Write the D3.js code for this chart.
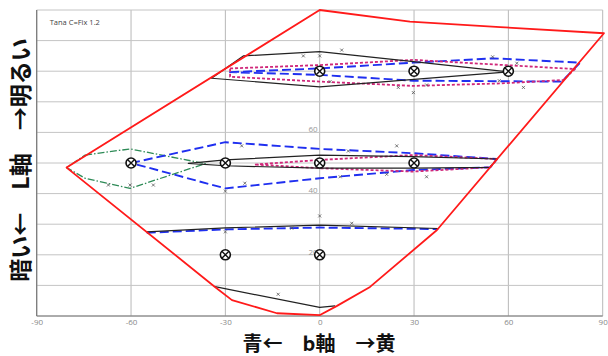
<!DOCTYPE html>
<html>
<head>
<meta charset="utf-8">
<script src="https://cdn.jsdelivr.net/npm/d3@7/dist/d3.min.js"></script>
<style>
  body { margin: 0; background: #fff; }
  svg { display: block; }
</style>
</head>
<body>
<div id="fig"></div>
<script>
// b axis ticks and L grid
var bTicks = [-90, -60, -30, 0, 30, 60, 90];
var lGrid = [0, 10, 20, 30, 40, 50, 60, 70, 80, 90, 100];
var lLabels = [20, 40, 60];

// gamut boundary [b, L]
var gamut = [[0, 100], [28.7, 96.2], [57.4, 94.4], [90.4, 92.4], [37.3, 28.1], [16, 9.5],
             [5.5, 3.3], [0.1, 0.3], [-13.6, 0.9], [-27.9, 5.2], [-33.3, 9.5], [-80.5, 48.5]];

// target colours (circled x)
var targets = [[0, 80], [30, 80], [60, 80], [-60, 50], [-30, 50], [0, 50], [30, 50], [-30, 20], [0, 20]];

// black solid outlines
var blackHigh = [[-24.3, 85], [0, 86.4], [29.8, 83.1], [60, 79.8], [0, 74.9], [-34.4, 77.7]];
var blackMid = [[-41.8, 49.9], [-30, 51], [0, 52.6], [29.7, 52.1], [56.4, 51.3],
                [54.2, 48.6], [29.7, 48.3], [0, 48.3], [-30, 49.1]];
var blackLow = [[-55, 27.5], [-30, 28.8], [0, 29.7], [37.7, 28.6]];
var blackBottom = [[-33.3, 9.6], [0, 2.8], [4.9, 3.3]];

// blue dashed outlines
var blueHigh = [[-28.5, 79.7], [0, 80.9], [29.8, 82.8], [55.2, 84.2], [82.8, 82.8],
                [77, 76.6], [29.8, 76.9], [0, 78.8]];
var blueMid = [[-60, 50], [-30, 56.8], [0, 54.6], [29.7, 53.2], [56.4, 51.3],
               [54.2, 48.6], [29.7, 47.7], [0, 45], [-30, 41.7]];
var blueLow = [[-55, 27.2], [-30, 28.3], [0, 28.9], [37.7, 28.4]];

// pink dotted outlines
var pinkHigh = [[-28.5, 80.9], [0, 82], [29.8, 83.7], [81.2, 80.7],
                [77.4, 77.1], [57.3, 76], [29.8, 75.2], [0, 76.6], [-28.5, 78.2]];
var pinkMid = [[-20.6, 49.5], [0, 51], [29.7, 52.6], [56.4, 51.3],
               [54.2, 48.6], [29.7, 47.2], [0, 48.3]];

// green dash-dot outline
var greenMid = [[-74.6, 52.6], [-60.3, 54.6], [-36.4, 49.8], [-60.3, 41.7], [-74.6, 45], [-80.5, 48.5]];

// small measured points
var samples = [[-5.2, 85], [0, 85], [7, 86.9], [55, 84.7], [62.7, 82.6], [57.1, 76.9],
               [34, 75.5], [29.8, 73], [64.8, 74.7], [3.3, 76.6], [25, 74.7],
               [-24.8, 55.6], [24.5, 55.6], [9.1, 53.9], [-23.8, 43.4], [-30, 40.8],
               [6.5, 45.5], [21.3, 46.3], [34, 45.5], [-67.2, 42.8], [-60.3, 42.8], [-52.9, 42.8],
               [0, 32.7], [10.2, 30.3], [-30, 27.5], [-8.9, 28.7], [-13.2, 7.1]];

var margin = { top: 10, right: 5.3, bottom: 40, left: 36.7 };
var width = 608 - margin.left - margin.right;
var height = 356 - margin.top - margin.bottom;

var x = d3.scaleLinear().domain([-90, 90]).range([0, width]);
var y = d3.scaleLinear().domain([0, 100]).range([height, 0]);

var svg = d3.select("#fig")
    .append("svg")
    .attr("width", 608)
    .attr("height", 356);

var fig = svg.append("g")
    .attr("transform", "translate(" + margin.left + "," + margin.top + ")");

// grid
fig.selectAll(".vgrid")
    .data(bTicks)
    .enter().append("line")
    .attr("x1", d => x(d)).attr("x2", d => x(d))
    .attr("y1", 0).attr("y2", height)
    .style("stroke", "#b8b8b8").style("stroke-width", 1);

fig.selectAll(".hgrid")
    .data(lGrid)
    .enter().append("line")
    .attr("x1", 0).attr("x2", width)
    .attr("y1", d => y(d)).attr("y2", d => y(d))
    .style("stroke", "#c4c4c4").style("stroke-width", 1);

// left and bottom axis lines
fig.append("line").attr("x1", 0).attr("x2", 0).attr("y1", 0).attr("y2", height)
    .style("stroke", "#777").style("stroke-width", 1.2);
fig.append("line").attr("x1", 0).attr("x2", width).attr("y1", height).attr("y2", height)
    .style("stroke", "#777").style("stroke-width", 1.2);

// tick labels
var xAxis = fig.append("g")
    .attr("transform", "translate(0," + height + ")")
    .call(d3.axisBottom(x).tickValues(bTicks).tickFormat(d => String(d)).tickSize(0).tickPadding(3));
xAxis.select(".domain").remove();
xAxis.selectAll("text")
    .style("font-family", "Open Sans, sans-serif").style("font-size", "8px").style("fill", "#888");

var yAxis = fig.append("g")
    .attr("transform", "translate(" + x(0) + ",0)")
    .call(d3.axisLeft(y).tickValues(lLabels).tickSize(0).tickPadding(2));
yAxis.select(".domain").remove();
yAxis.selectAll("text")
    .attr("dy", "-0.1em")
    .style("font-family", "Open Sans, sans-serif").style("font-size", "8px").style("fill", "#999");

var openLine = d3.line().x(d => x(d[0])).y(d => y(d[1]));
var closedLine = d3.line().x(d => x(d[0])).y(d => y(d[1])).curve(d3.curveLinearClosed);

function outline(pts, isClosed, colour, w, dash) {
    fig.append("path")
        .attr("d", isClosed ? closedLine(pts) : openLine(pts))
        .style("fill", "none")
        .style("stroke", colour)
        .style("stroke-width", w)
        .style("stroke-dasharray", dash)
        .style("stroke-linejoin", "round");
}

outline(greenMid, true, "#2e8b57", 1.3, "7,2,1.5,2");
outline(blueHigh, true, "#1f2ff0", 1.9, "9,4");
outline(blueMid, true, "#1f2ff0", 1.9, "9,4");
outline(blueLow, false, "#1f2ff0", 1.9, "9,4");
outline(pinkHigh, true, "#d0287a", 1.8, "3,2");
outline(pinkMid, true, "#d0287a", 1.8, "3,2");
outline(blackHigh, true, "#222", 1.2, null);
outline(blackMid, true, "#222", 1.2, null);
outline(blackLow, false, "#222", 1.2, null);
outline(blackBottom, false, "#222", 1.2, null);

// small sample crosses
fig.selectAll(".sample")
    .data(samples)
    .enter().append("path")
    .attr("d", d => {
        var cx = x(d[0]), cy = y(d[1]);
        return "M" + (cx - 1.5) + "," + (cy - 1.5) + "L" + (cx + 1.5) + "," + (cy + 1.5) +
               "M" + (cx + 1.5) + "," + (cy - 1.5) + "L" + (cx - 1.5) + "," + (cy + 1.5);
    })
    .style("stroke", "#555").style("stroke-width", 0.8);

// gamut boundary
outline(gamut, true, "#ff1a1a", 1.8, null);

// targets
var tg = fig.selectAll(".target")
    .data(targets)
    .enter().append("g")
    .attr("transform", d => "translate(" + x(d[0]) + "," + y(d[1]) + ")");
tg.append("circle")
    .attr("r", 5)
    .style("fill", "#fff").style("stroke", "#111").style("stroke-width", 1.6);
tg.append("path")
    .attr("d", "M-3.3,-3.3L3.3,3.3M3.3,-3.3L-3.3,3.3")
    .style("stroke", "#111").style("stroke-width", 1.4);

// title
fig.append("text")
    .attr("x", 13)
    .attr("y", 15)
    .style("font-family", "Open Sans, sans-serif")
    .style("font-size", "7.5px")
    .style("fill", "#444")
    .text("Tana C=Fix 1.2");

// axis titles
svg.append("text")
    .attr("text-anchor", "middle")
    .attr("transform", "translate(29,160) rotate(-90)")
    .style("font-family", "Noto Sans CJK JP")
    .style("font-weight", "bold")
    .style("font-size", "23px")
    .style("fill", "#111")
    .text("暗い←　L軸　→明るい");

svg.append("text")
    .attr("text-anchor", "middle")
    .attr("x", 319)
    .attr("y", 351)
    .style("font-family", "Noto Sans CJK JP")
    .style("font-weight", "bold")
    .style("font-size", "20px")
    .style("fill", "#111")
    .text("青←　b軸　→黄");
</script>
</body>
</html>
